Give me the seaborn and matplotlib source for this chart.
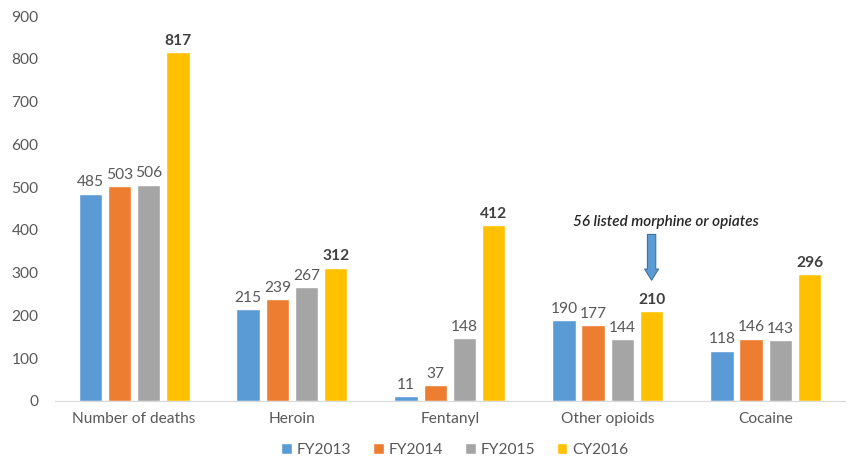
import matplotlib.pyplot as plt
import seaborn as sns
import pandas as pd

# Data
categories = ['Number of deaths', 'Heroin', 'Fentanyl', 'Other opioids', 'Cocaine']
series = ['FY2013', 'FY2014', 'FY2015', 'CY2016']
fy2013 = [485, 215, 11, 190, 118]
fy2014 = [503, 239, 37, 177, 146]
fy2015 = [506, 267, 148, 144, 143]
cy2016 = [817, 312, 412, 210, 296]
colors = ['#5B9BD5', '#ED7D31', '#A5A5A5', '#FFC000']
note = '56 listed morphine or opiates'

rows = []
for name, vals in zip(series, [fy2013, fy2014, fy2015, cy2016]):
    for cat, v in zip(categories, vals):
        rows.append({'category': cat, 'series': name, 'value': v})
df = pd.DataFrame(rows)

sns.set_style('white')
plt.rcParams['font.family'] = ['Lato', 'DejaVu Sans']
text_color = '#595959'

fig = plt.figure(figsize=(8.48, 4.63), dpi=100)
ax = fig.add_axes([0.065, 0.134, 0.931, 0.831])

sns.barplot(data=df, x='category', y='value', hue='series', palette=colors,
            width=0.74, gap=0.2, saturation=1, ax=ax)

ax.set_ylim(0, 900)
ax.set_yticks(range(0, 901, 100))
ax.set_xlim(-0.5, 4.5)
ax.set_xlabel('')
ax.set_ylabel('')
for s in ['top', 'right', 'left']:
    ax.spines[s].set_visible(False)
ax.spines['bottom'].set_color('#D9D9D9')
ax.tick_params(axis='both', length=0, labelsize=11.2, colors=text_color, pad=8)
ax.tick_params(axis='y', pad=12)

for i, cont in enumerate(ax.containers):
    ax.bar_label(cont, padding=3, fontsize=11.2, color=text_color if i < 3 else '#404040',
                 fontweight='bold' if i == 3 else 'normal')

# arrow over "Other opioids" CY2016
bar = ax.containers[3][3]
bx = bar.get_x() + bar.get_width() / 2
ax.annotate('', xy=(bx, 276), xytext=(bx, 396),
            arrowprops=dict(arrowstyle='simple,head_width=1.0,head_length=0.8,tail_width=0.6',
                            facecolor='#5B9BD5', edgecolor='#41719C', lw=0.8))
ax.text(bx + 0.09, 402, note, ha='center', va='bottom', fontsize=11,
        style='italic', fontweight='semibold', color='#262626')

ax.legend(loc='upper center', bbox_to_anchor=(0.506, -0.08), ncol=4, frameon=False,
          fontsize=11.2, handlelength=0.7, handleheight=0.7, handletextpad=0.3,
          columnspacing=1.4, labelcolor=text_color, borderpad=0.2)

fig.savefig('out.png', dpi=100)
